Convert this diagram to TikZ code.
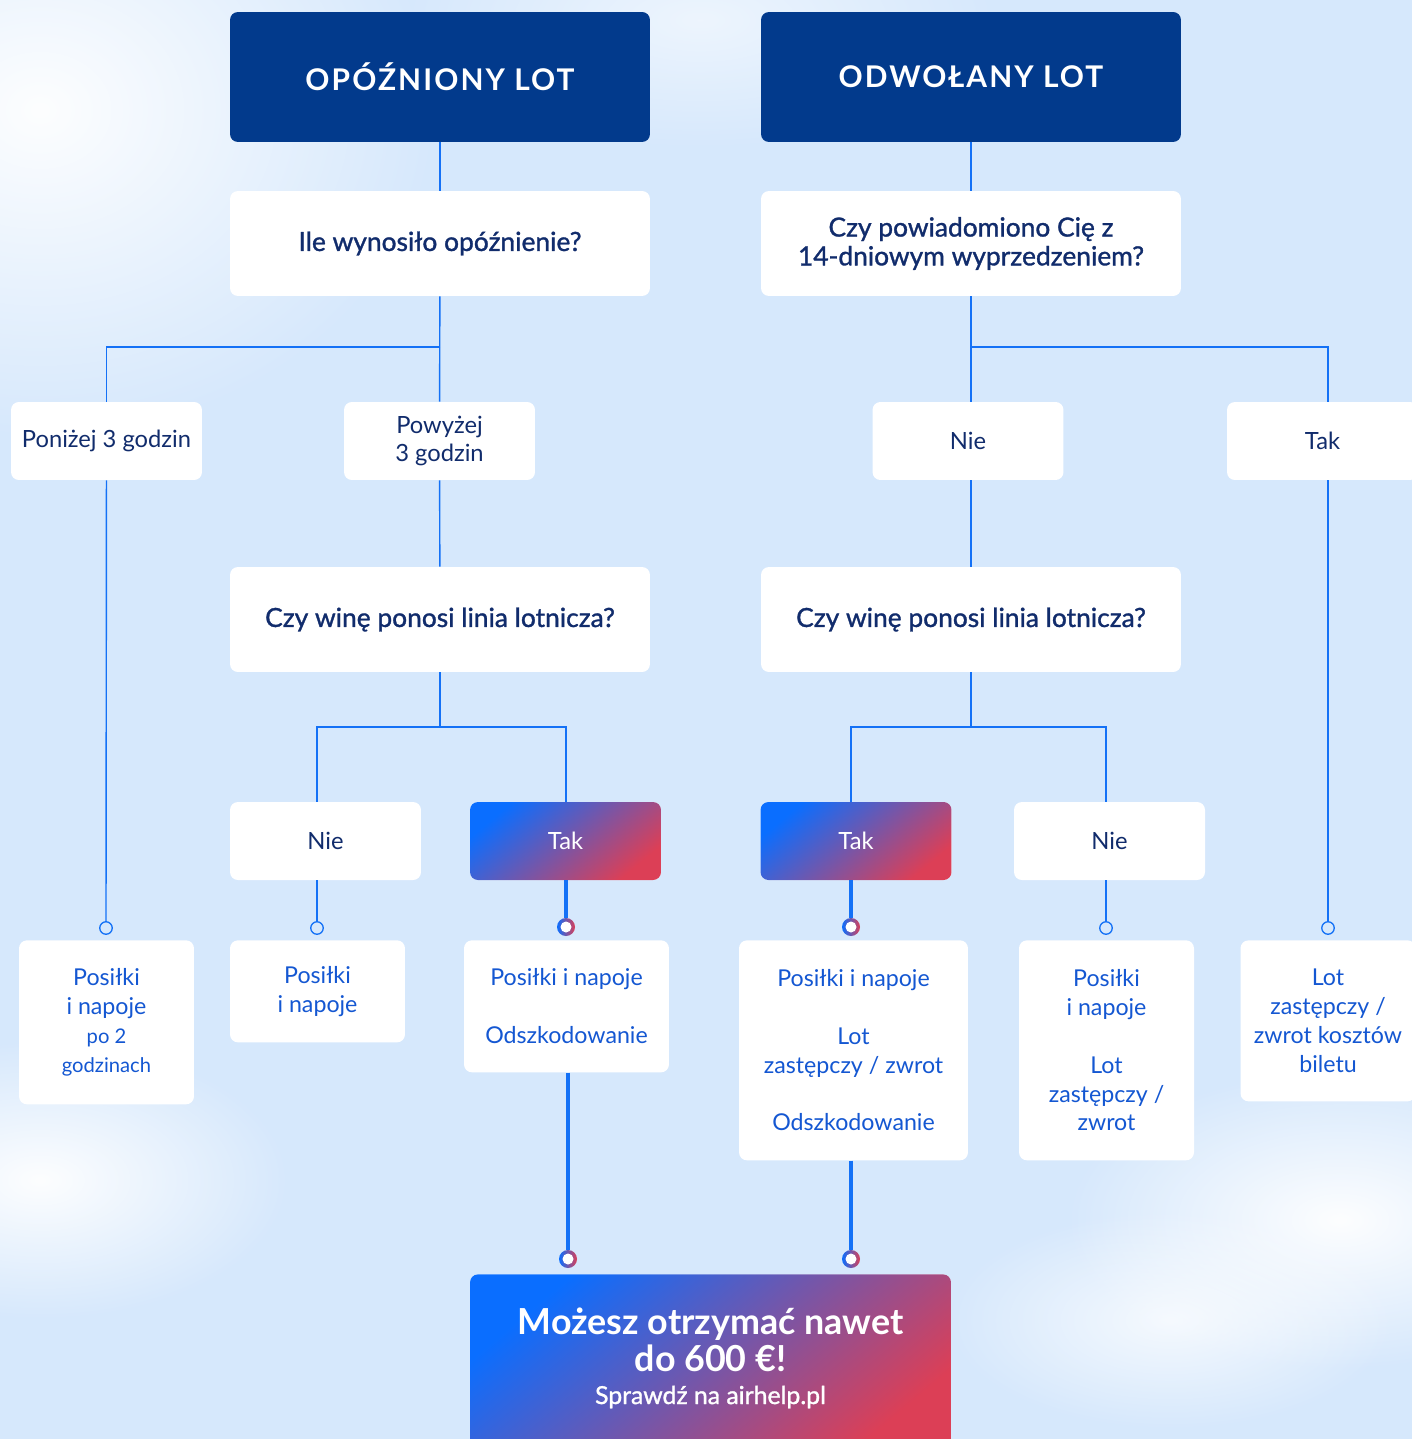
\documentclass[tikz,border=0pt]{standalone}
\usepackage{fontspec}
\setmainfont{Lato}
\newfontfamily\headfont[LetterSpace=7]{Lato}
\newfontfamily\askfont[FakeBold=1.2]{Lato}
\usetikzlibrary{calc,fadings}

\definecolor{sky}{HTML}{D6E8FC}
\definecolor{navy}{HTML}{023A8C}
\definecolor{ink}{HTML}{112C6C}
\definecolor{deep}{HTML}{1457D2}
\definecolor{wire}{HTML}{1471F6}
\definecolor{ahblue}{HTML}{0A6EFF}
\definecolor{ahred}{HTML}{DC3F56}

\tikzfading[name=fuzzy, inner color=transparent!5, outer color=transparent!100]

\def\drawwire{\draw[color=wire, line width=0.8pt]}
\def\drawpath{\draw[color=wire, line width=1.9pt]}
\def\ringnode{\node[circle,draw=wire,fill=sky,line width=0.75pt,minimum size=0.25cm,inner sep=0pt]}
\def\hotring{\node[circle,minimum size=0.36cm,inner sep=0pt,left color=ahblue,right color=ahred,
  path picture={\fill[white] (path picture bounding box.center) circle (0.11cm);}]}

\tikzset{
  card/.style={rectangle, rounded corners=4.5pt, fill=white, align=center, inner sep=0pt},
  head/.style={card, fill=navy, text=white, minimum width=8.4cm, minimum height=2.6cm,
    font=\headfont\bfseries\fontsize{17}{20}\selectfont},
  ask/.style={card, text=ink, minimum width=8.4cm, minimum height=2.1cm,
    font=\askfont\fontsize{15}{16.4}\selectfont},
  pick/.style={card, text=ink, minimum width=3.82cm, minimum height=1.56cm,
    font=\fontsize{13.5}{16.4}\selectfont},
  hot/.style={pick, text=white, top color=ahblue, bottom color=ahred, shading angle=40},
  res/.style={card, text=deep, anchor=north, font=\fontsize{13.2}{16.4}\selectfont},
}
\def\smalltext{\fontsize{11.5}{16.4}\selectfont}

\begin{document}
\begin{tikzpicture}[x=0.02cm, y=-0.02cm]
\useasboundingbox (0,0) rectangle (1412,1439);
\fill[sky] (0,0) rectangle (1412,1439);

% soft clouds behind the chart
\fill[white, path fading=fuzzy] (40,110) ellipse (8cm and 6.6cm);
\fill[white, path fading=fuzzy, opacity=0.6] (700,20) ellipse (6cm and 2.6cm);
\fill[white, path fading=fuzzy] (40,1180) ellipse (5cm and 2.8cm);
\fill[white, path fading=fuzzy] (1340,1220) ellipse (5.5cm and 3cm);
\fill[white, path fading=fuzzy, opacity=0.8] (1170,1320) ellipse (4.5cm and 2.2cm);

% -------- headers and first questions ---------
\node[head] (delay) at (440,77) {OPÓŹNIONY LOT};
\node[head] (cancel) at (971,77) {ODWOŁANY LOT};
\node[ask] (howlong) at (440,243.5) {Ile wynosiło opóźnienie?};
\node[ask] (notice) at (971,243.5) {Czy powiadomiono Cię z\\14-dniowym wyprzedzeniem?};
\drawwire (delay) -- (howlong);
\drawwire (cancel) -- (notice);

% -------- delayed flight ---------
\coordinate (split1) at (440,347);
\node[pick] (under) at (106.5,441) {Poniżej 3 godzin};
\node[pick] (over) at (439.5,441) {Powyżej\\3 godzin};
\node[ask] (fault1) at (440,619.5) {Czy winę ponosi linia lotnicza?};
\drawwire (howlong) -- (over);
\drawwire (split1) -| (under);
\drawwire (over) -- (fault1);

\coordinate (split2) at (440,727);
\node[pick] (no1) at (325.5,841) {Nie};
\node[hot] (yes1) at (565.5,841) {Tak};

% results, all hanging from the same top line
\node[res, minimum width=3.5cm, minimum height=3.28cm] (meals2h) at (106.5,940)
  {Posiłki\\i napoje\\{\smalltext po 2}\\{\smalltext godzinach}};
\node[res, minimum width=3.5cm, minimum height=2.04cm] (meals1) at (317.5,940)
  {Posiłki\\i napoje};
\node[res, minimum width=4.1cm, minimum height=2.64cm] (comp1) at (566.5,940)
  {Posiłki i napoje\\~\\Odszkodowanie};

\ringnode (m1) at (106,928) {};
\ringnode (m2) at (317,928) {};
\hotring (m3) at (566,927) {};
\drawwire (fault1) -- (split2);
\drawwire (split2) -| (m2 |- no1.north);
\drawwire (split2) -| (m3 |- yes1.north);
\drawwire (under) -- (m1);
\drawwire (no1.south -| m2) -- (m2);
\drawpath (yes1.south -| m3) -- (m3);

% -------- cancelled flight ---------
\coordinate (split3) at (971,347);
\node[pick] (no2) at (968,441) {Nie};
\node[pick] (yes2) at (1322.5,441) {Tak};
\node[ask] (fault2) at (971,619.5) {Czy winę ponosi linia lotnicza?};
\ringnode (m6) at (1328,928) {};
\drawwire (notice.south) -- (split3 |- no2.north);
\drawwire (split3) -| (m6 |- yes2.north);
\drawwire (no2.south -| split3) -- (fault2);
\drawwire (yes2.south -| m6) -- (m6);

\coordinate (split4) at (971,727);
\node[hot] (yes3) at (856,841) {Tak};
\node[pick] (no3) at (1109.5,841) {Nie};
\hotring (m4) at (851,927) {};
\ringnode (m5) at (1106,928) {};
\drawwire (fault2) -- (split4);
\drawwire (split4) -| (m4 |- yes3.north);
\drawwire (split4) -| (m5 |- no3.north);
\drawpath (yes3.south -| m4) -- (m4);
\drawwire (no3.south -| m5) -- (m5);

\node[res, minimum width=4.58cm, minimum height=4.4cm] (comp2) at (853.5,940)
  {Posiłki i napoje\\~\\Lot\\zastępczy / zwrot\\~\\Odszkodowanie};
\node[res, minimum width=3.5cm, minimum height=4.4cm] (meals3) at (1106.5,940)
  {Posiłki\\i napoje\\~\\Lot\\zastępczy /\\zwrot};
\node[res, minimum width=3.5cm, minimum height=3.22cm] (refund) at (1328,940)
  {Lot\\zastępczy /\\zwrot kosztów\\biletu};

% -------- claim box at the bottom ---------
\hotring (m7) at (568,1259) {};
\hotring (m8) at (851,1259) {};
\drawpath (comp1.south -| m7) -- (m7);
\drawpath (comp2.south -| m8) -- (m8);
\node[card, anchor=north, minimum width=9.62cm, minimum height=3.6cm,
  top color=ahblue, bottom color=ahred, shading angle=40] (claim) at (710.5,1274) {};
\node[text=white, align=center, font=\bfseries\fontsize{20.4}{21}\selectfont] (claimhead)
  at (710.5,1340) {Możesz otrzymać nawet\\do 600 €!};
\node[text=white, font=\askfont\fontsize{14.1}{16}\selectfont, anchor=base] (claimsub)
  at (710.5,1404) {Sprawdź na airhelp.pl};
\end{tikzpicture}
\end{document}
